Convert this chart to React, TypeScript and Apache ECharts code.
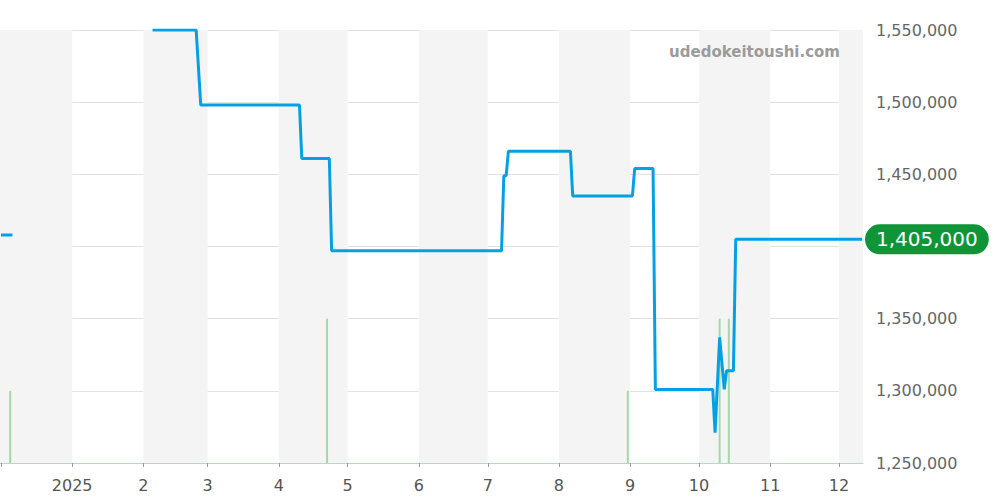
import React, { useEffect, useRef } from "react";
import * as echarts from "echarts";

const priceDates: string[] = [
  "2024-12-01", "2024-12-06", "2024-12-07",
  "2025-02-05", "2025-02-24", "2025-02-26",
  "2025-04-10", "2025-04-11",
  "2025-04-23", "2025-04-24",
  "2025-07-07", "2025-07-08", "2025-07-09", "2025-07-10",
  "2025-08-06", "2025-08-07",
  "2025-09-02", "2025-09-03",
  "2025-09-11", "2025-09-12",
  "2025-10-07", "2025-10-08", "2025-10-10", "2025-10-12", "2025-10-13",
  "2025-10-16", "2025-10-17",
  "2025-12-11",
];
const priceValues: (number | null)[] = [
  1408000, 1408000, null,
  1550000, 1550000, 1498000,
  1498000, 1461000,
  1461000, 1397000,
  1397000, 1449000, 1449000, 1466000,
  1466000, 1435000,
  1435000, 1454000,
  1454000, 1301000,
  1301000, 1271000, 1337000, 1301000, 1314000,
  1314000, 1405000,
  1405000,
];

const volumeDates: string[] = ["2024-12-05", "2025-04-22", "2025-08-31", "2025-10-10", "2025-10-14"];
const volumeValues: number[] = [1, 2, 1, 2, 2];

const shadedMonths: [string, string][] = [
  ["2024-11-20", "2025-01-01"],
  ["2025-02-01", "2025-03-01"],
  ["2025-04-01", "2025-05-01"],
  ["2025-06-01", "2025-07-01"],
  ["2025-08-01", "2025-09-01"],
  ["2025-10-01", "2025-11-01"],
  ["2025-12-01", "2026-01-01"],
];

const yTicks = { min: 1250000, max: 1550000, interval: 50000 };
const axisStart = "2024-12-01";
const axisEnd = "2025-12-11";
const lastPrice = 1405000;
const watermark = "udedokeitoushi.com";

const FONT = "DejaVu Sans";

export default function App() {
  const ref = useRef<HTMLDivElement>(null);
  useEffect(() => {
    if (!ref.current) return;
    const chart = echarts.init(ref.current, undefined, { renderer: "svg" });
    const fmt = (v: number) => v.toLocaleString("en-US");
    const startMs = new Date(axisStart).getTime();
    chart.setOption({
      animation: false,
      textStyle: { fontFamily: FONT },
      grid: { left: 0, right: 137, top: 30, bottom: 37, containLabel: false, outerBoundsMode: "none" },
      xAxis: {
        type: "time",
        min: axisStart,
        max: axisEnd,
        minInterval: 28 * 24 * 3600 * 1000,
        maxInterval: 31 * 24 * 3600 * 1000,
        axisLine: { show: true, lineStyle: { color: "#a9dbb0", width: 1, type: "dotted" } },
        axisTick: { show: true, length: 4, lineStyle: { color: "#999" } },
        splitLine: { show: false },
        axisLabel: {
          fontSize: 16,
          color: "#555",
          fontFamily: FONT,
          margin: 14,
          showMinLabel: false,
          showMaxLabel: false,
          hideOverlap: false,
          formatter: (val: number) => {
            if (val <= startMs + 3600 * 1000 * 24) return "";
            const d = new Date(val);
            return d.getMonth() === 0 ? String(d.getFullYear()) : String(d.getMonth() + 1);
          },
        },
      },
      yAxis: [
        {
          type: "value",
          position: "right",
          min: yTicks.min,
          max: yTicks.max,
          interval: yTicks.interval,
          axisLine: { show: false },
          axisTick: { show: false },
          splitLine: { show: true, lineStyle: { color: "#e2e2e2" } },
          axisLabel: { fontSize: 16, color: "#666", fontFamily: FONT, margin: 13, formatter: (v: number) => fmt(v) },
        },
        {
          type: "value",
          min: 0,
          max: 6,
          show: false,
          splitLine: { show: false },
        },
      ],
      graphic: [
        {
          type: "text",
          right: 160,
          top: 44,
          style: { text: watermark, fill: "#9b9b9b", font: `bold 15px ${FONT}` },
          z: 100,
        },
      ],
      series: [
        {
          type: "bar",
          yAxisIndex: 1,
          barWidth: 2,
          itemStyle: { color: "#a3d9a9" },
          data: volumeDates.map((d, i) => [d, volumeValues[i]]),
          z: 1,
          markArea: {
            silent: true,
            itemStyle: { color: "#f4f4f4" },
            data: shadedMonths.map(([a, b]) => [{ xAxis: a }, { xAxis: b }]),
          },
        },
        {
          type: "line",
          data: priceDates.map((d, i) => [d, priceValues[i]]),
          connectNulls: false,
          showSymbol: false,
          symbol: "none",
          lineStyle: { color: "#05a0e3", width: 3 },
          z: 3,
          markLine: {
            silent: true,
            symbol: "none",
            z: 10,
            lineStyle: { color: "rgba(0,0,0,0)", width: 0 },
            data: [{ yAxis: lastPrice }],
            label: {
              show: true,
              position: "end",
              distance: 2,
              formatter: () => fmt(lastPrice),
              color: "#fff",
              fontSize: 20,
              fontFamily: FONT,
              backgroundColor: "#0f9438",
              borderRadius: 15,
              padding: [6, 11, 4, 11],
            },
          },
        },
      ],
    });
    return () => chart.dispose();
  }, []);
  return <div ref={ref} style={{ width: 1000, height: 500, position: "absolute", left: 0, top: 0 }} />;
}
